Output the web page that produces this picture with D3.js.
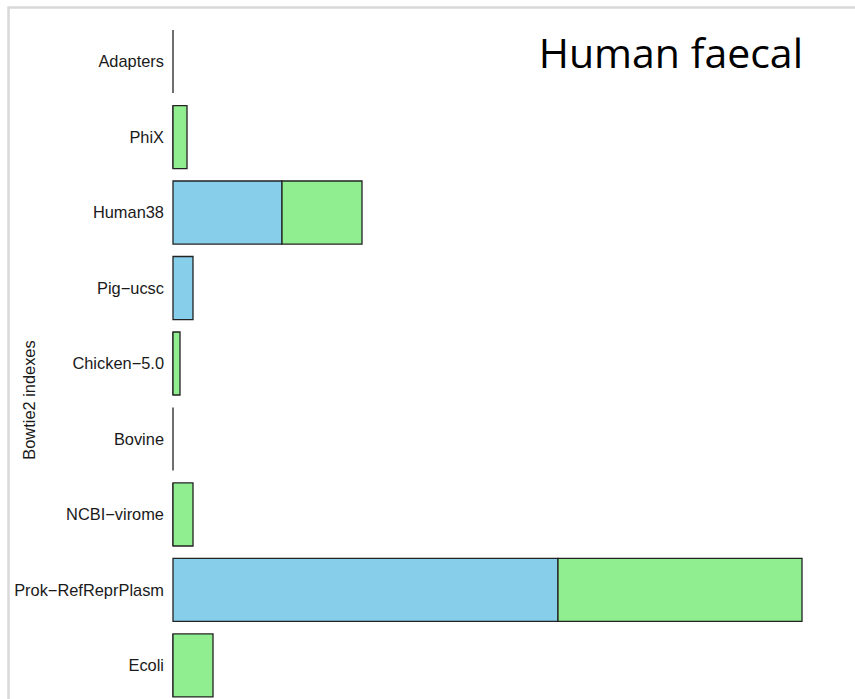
<!DOCTYPE html>
<html>
<head>
<meta charset="utf-8">
<script src="https://cdn.jsdelivr.net/npm/d3@7"></script>
<style>
  html, body { margin: 0; padding: 0; background: #fff; }
  svg { display: block; }
</style>
</head>
<body>
<svg id="chart" width="855" height="699"></svg>
<script>
// Bowtie2 index hits, human faecal sample (stacked: blue + green)
const indexes = ["Adapters", "PhiX", "Human38", "Pig\u2212ucsc", "Chicken\u22125.0",
                 "Bovine", "NCBI\u2212virome", "Prok\u2212RefReprPlasm", "Ecoli"];
const blueValues  = [0, 0, 10.9, 2.0, 0, 0, 0, 38.5, 0];
const greenValues = [0, 1.4, 8.0, 0, 0.7, 0, 2.0, 24.4, 4.0];
const seriesColors = ["#87ceeb", "#90ee90"];
const chartTitle = "Human faecal";
const axisTitle = "Bowtie2 indexes";

const svg = d3.select("#chart");
const W = 855, H = 699;

// outer frame
svg.append("rect")
  .attr("x", 8.5).attr("y", 7.5)
  .attr("width", W).attr("height", H)
  .attr("fill", "none")
  .attr("stroke", "#d9d9d9")
  .attr("stroke-width", 2.5);

const x0 = 173;
const x = d3.scaleLinear().domain([0, 62.9]).range([x0, x0 + 629]);
const y = d3.scaleBand().domain(indexes).range([24, 703]).paddingInner(0.165).paddingOuter(0.08);

const rows = indexes.map((name, i) => ({ name, values: [blueValues[i], greenValues[i]] }));
const stack = d3.stack().keys([0, 1]).value((d, k) => d.values[k]);
const layers = stack(rows);

layers.forEach((layer, k) => {
  svg.append("g").selectAll("path")
    .data(layer.filter(d => k === 0 || d[1] > d[0]))
    .join("path")
    .attr("d", d => {
      const xa = x(d[0]), xb = x(d[1]);
      const ya = y(d.data.name), yb = ya + y.bandwidth();
      return `M${xa},${ya}H${xb}V${yb}H${xa}Z`;
    })
    .attr("fill", seriesColors[k])
    .attr("stroke", "#222")
    .attr("stroke-width", 1.3);
});

// category labels
svg.append("g").selectAll("text")
  .data(indexes)
  .join("text")
  .attr("x", 164)
  .attr("y", d => y(d) + y.bandwidth() / 2)
  .attr("dy", "0.35em")
  .attr("text-anchor", "end")
  .attr("font-family", "Liberation Sans, Arial, sans-serif")
  .attr("font-size", 16.4)
  .attr("fill", "#1a1a1a")
  .text(d => d);

// axis title
svg.append("text")
  .attr("transform", `translate(35,400) rotate(-90)`)
  .attr("text-anchor", "middle")
  .attr("font-family", "Liberation Sans, Arial, sans-serif")
  .attr("font-size", 16.4)
  .attr("fill", "#1a1a1a")
  .text(axisTitle);

// chart title
svg.append("text")
  .attr("x", 803)
  .attr("y", 68)
  .attr("text-anchor", "end")
  .attr("font-family", "Open Sans, sans-serif")
  .attr("font-size", 41)
  .attr("fill", "#000")
  .text(chartTitle);
</script>
</body>
</html>
